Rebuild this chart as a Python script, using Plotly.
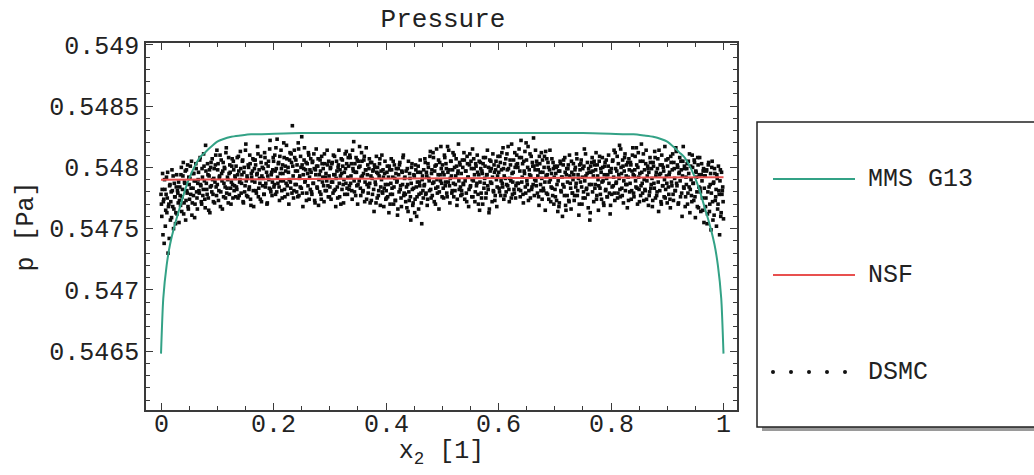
import numpy as np
import plotly.graph_objects as go

# ---------------- data ----------------
# MMS G13
mms_x = [0.000, 0.004, 0.010, 0.016, 0.025, 0.034, 0.043, 0.052, 0.060, 0.069, 0.078, 0.087,
         0.100, 0.110, 0.125, 0.141, 0.160, 0.176, 0.250, 0.500, 0.750, 0.824, 0.840,
         0.859, 0.875, 0.890, 0.900, 0.913, 0.922, 0.931, 0.940, 0.948, 0.957, 0.966,
         0.975, 0.984, 0.990, 0.996, 1.000]
mms_p = [0.54648, 0.54693, 0.54720, 0.54737, 0.54754, 0.54768, 0.54782, 0.54793, 0.54801, 0.54808, 0.54812, 0.54816,
         0.54821, 0.54823, 0.54825, 0.54826, 0.54827, 0.54827, 0.54828, 0.54828, 0.54828, 0.54827, 0.54827,
         0.54826, 0.54825, 0.54823, 0.54821, 0.54816, 0.54812, 0.54808, 0.54801, 0.54793, 0.54782, 0.54768,
         0.54754, 0.54737, 0.54720, 0.54693, 0.54648]

# NSF
nsf_x = [0.0, 1.0]
nsf_p = [0.54790, 0.54792]

# DSMC: deviations from 0.5479 Pa in units of 1e-5 Pa, two interleaved sets of cells on [0, 1]
dsmc_dp_a = [
    -12, -30, 5, -18, -52, -8, -25, 2, -15, -60, -20, -5, -33, -10, 8, -22, -40, -3, -14, -27, 4, -9, -19, -35,
    -6, -21, 10, -14, 3, -28, -2, 7, -17, -9, 12, -24, -4, 1, -12, 15, -19, -7, 5, -31, -1, 9, -15, -3,
    6, -11, 18, -5, -20, 2, -8, 11, -16, 28, -3, -12, 4, -25, 8, -6, 14, -10, 0, -18, 9, -2, 20, -13,
    -4, 13, -9, 3, -22, 16, -1, 7, -14, 10, -6, 22, -11, 2, -19, 5, 12, -7, -2, 17, -15, 8, -5, 1,
    11, -8, 4, 19, -13, 0, 9, -3, 15, -18, 6, -10, 24, -1, 3, -14, 10, -6, 13, -21, 2, 7, -9, 16,
    -2, 12, -11, 5, 21, -7, 1, -16, 14, 3, -5, 9, -12, 18, -3, 6, -19, 11, 0, 25, -8, 4, -13, 8,
    15, -4, 7, 26, -10, 2, 13, -6, 19, -1, 9, -15, 5, 30, -8, 11, -3, 17, -12, 6, 0, 22, -7, 14,
    44, 3, -9, 18, 7, -4, 12, -14, 25, 1, -6, 10, 35, -11, 4, 16, -2, 8, -17, 13, -5, 20, 2, -8,
    6, -12, 15, -3, 9, -19, 4, 11, -7, 17, 0, -10, 7, -16, 13, 2, -5, 21, -9, 5, -1, 12, -14, 3,
    -6, 10, -2, 14, -11, 4, 19, -8, 1, 7, -15, 12, -3, 8, -20, 5, 16, -4, 0, -12, 9, 23, -7, 2,
    11, -5, 18, 3, -9, 24, 7, -1, 13, -13, 6, 16, -4, 10, 27, -7, 2, 15, -10, 5, 19, -2, 8, -16,
    4, -11, 9, -3, 14, -17, 1, 7, -8, 12, -2, -19, 6, 10, -13, 3, 17, -6, 0, -10, 8, -22, 5, -4,
    -9, 6, -14, 2, 11, -20, -3, 8, -12, 15, -6, 1, -17, 9, -1, -24, 4, 12, -8, -15, 7, -4, 20, -11,
    2, -18, -6, 9, -26, -10, 5, -14, -3, 13, -21, -7, 3, -16, 8, -30, -2, 11, -12, -5, 6, -19, 0, -9,
    8, -4, 14, -11, 3, -16, 10, -1, 19, -8, 5, -13, 22, -2, 7, -20, 12, 0, -6, 16, -10, 4, 27, -3,
    12, -7, 4, 18, -2, 9, -14, 6, 24, -5, 1, 15, -11, 8, -3, 20, -9, 3, 11, -16, 7, -1, 14, -6,
    5, -12, 10, -4, 16, -1, 7, -18, 13, 2, -8, 21, -5, 9, 0, -14, 17, 4, -10, 11, -3, 6, -20, 15,
    -2, 9, -15, 5, 13, -7, 1, 18, -11, 4, -5, 10, -24, 7, 15, -3, 2, -9, 12, -17, 8, 0, -6, 19,
    6, -10, 14, -1, 22, -6, 9, 3, -13, 17, -4, 8, 27, -8, 1, 12, -15, 5, -2, 16, -11, 10, -5, 20,
    13, -3, 25, 7, -9, 18, 2, -12, 15, 5, -6, 30, -1, 10, -17, 8, 21, 3, -8, 14, -4, 11, 0, 24,
    -5, 12, 3, -14, 19, 6, -9, 1, 16, -7, 10, -2, 23, -11, 4, 14, -16, 8, 0, -6, 17, -13, 9, 2,
    -8, 5, -17, 11, -1, -22, 7, 13, -10, 2, -4, 16, -13, 6, -25, 9, -2, 12, -18, 3, -7, 15, -11, 0,
    4, -13, 10, -3, 17, -9, 1, -20, 8, 13, -6, 2, -15, 11, -1, 21, -8, 5, -12, 9, -4, -27, 6, 14,
    -10, 3, 15, -7, 8, -16, 12, 0, -5, 19, -12, 6, -2, 10, -19, 4, 14, -8, 1, -14, 11, -3, 7, -21,
    9, -6, 16, 2, -11, 22, -3, 7, -15, 13, 1, -8, 25, 5, -13, 11, -1, 18, -9, 3, -4, 14, -17, 8,
    -3, 12, -9, 20, 4, -14, 8, -1, 26, -7, 10, 2, -18, 15, -5, 6, -11, 21, 0, -8, 13, -16, 3, 9,
    6, -10, 14, -4, 1, -17, 11, -7, 18, 3, -13, 9, -2, 24, -9, 5, -20, 12, -5, 7, 0, -15, 16, -3,
    11, -6, 4, -16, 19, -2, 8, -12, 14, 1, -9, 23, -5, 10, -19, 6, -1, 15, -11, 3, 27, -7, 9, -14,
    -4, 13, -11, 5, 21, -8, 0, -18, 10, -3, 16, -14, 7, 2, -22, 12, -6, 18, -10, 4, -1, -25, 9, -7,
    3, -15, 8, -28, 12, -6, -20, 5, -11, 15, -33, -2, 9, -17, -8, 4, -24, 11, -12, -1, -30, 6, -9, -18,
]
dsmc_dp_b = [
    -20, -8, -45, -16, 0, -38, -12, -27, 6, -22, -48, -4, -18, -31, -9, 3, -24, -14, -36, -6, -28, -11, -2, -17,
    -13, 4, -26, -8, 14, -19, -3, -33, 8, -11, -22, 2, -16, 11, -7, -29, 5, -13, -1, -20, 13, -10, -24, 0,
    -9, 16, -4, -18, 9, -13, 21, -1, -23, 7, -8, 13, -15, 3, -27, 10, -5, 17, -12, 1, -19, 12, -6, 24,
    8, -17, 2, 20, -10, 5, -24, 14, -3, 9, -15, 26, -7, 0, 18, -12, 6, -20, 11, -4, 15, -9, 3, -14,
    -6, 18, -15, 7, -2, 23, -11, 4, 16, -19, 10, -5, 29, -13, 1, 12, -8, 20, -16, 5, -1, 17, -22, 9,
    16, -9, 4, 27, -14, 8, -3, 19, -18, 10, 1, -12, 22, -6, 13, -20, 3, 15, -7, 32, -10, 6, -2, 18,
    -6, 20, -12, 9, 33, -3, 14, -17, 5, 24, -9, 12, -1, 18, -14, 7, 28, -5, 10, -20, 16, -2, 21, -11,
    11, -15, 24, -4, 16, -10, 7, 30, -13, 3, 19, -7, 12, -22, 9, 26, -1, 14, -11, 5, 22, -16, 8, 17,
    -10, 14, -3, 21, -17, 8, 25, -6, 11, -21, 4, 16, -12, 19, -2, 9, -18, 13, 2, -9, 24, -5, 15, -14,
    9, -16, 13, -2, 20, -9, 4, -22, 15, -6, 10, 24, -14, 3, 17, -8, 11, -19, 6, 21, -3, 13, -12, 18,
    -8, 20, -3, 13, -16, 9, 31, -10, 6, 18, -5, -20, 15, -1, 11, -13, 22, 3, -9, 16, -18, 8, 26, -4,
    12, -6, 17, -19, 3, 14, -12, 8, -26, 10, -4, 19, -15, 5, -9, 13, -21, 7, 20, -11, 2, -7, 15, -16,
    -15, 11, -4, -27, 8, -12, 17, -7, 2, -20, 12, -17, 5, -2, -29, 9, -10, 14, -5, -22, 6, 18, -13, 1,
    -12, 7, -23, -4, 15, -17, 1, -33, 10, -8, -19, 4, -27, 12, -6, -14, 6, -24, -2, 16, -11, -36, 3, -15,
    -5, 17, -12, 6, -21, 13, 1, -9, 23, -15, 8, -3, 18, -18, 11, -7, 25, -11, 4, -24, 14, -1, 9, -14,
    6, -15, 20, -5, 13, -11, 27, -2, 8, -19, 15, 3, -9, 22, -14, 10, -4, 17, -21, 5, 29, -8, 12, -13,
    -9, 16, -3, 22, -16, 7, -11, 19, 2, -22, 12, -6, 15, -14, 25, -1, 9, -18, 13, -5, 20, -12, 4, -25,
    14, -11, 7, -20, 18, -3, 11, -15, 4, 24, -8, -27, 16, -2, 9, -18, 21, -10, 6, -13, 15, -22, 3, 11,
    -7, 19, -13, 8, -3, 26, -16, 13, 1, -10, 21, -5, 9, -18, 16, -1, 29, -12, 6, -8, 22, -15, 12, -3,
    10, -8, 18, -14, 32, -2, 13, -19, 7, 23, -11, 16, -4, 27, -9, 4, -15, 19, -6, 11, 34, -13, 8, -1,
    15, -11, 8, -21, 13, -4, 22, -16, 6, -9, 19, -25, 3, 17, -12, 10, -2, 24, -18, 5, -7, 14, -20, 11,
    -14, 10, -4, -26, 7, -19, 15, -9, 2, -30, 12, -6, 18, -21, 4, -13, 9, -17, 20, -3, -24, 6, -11, 13,
    -17, 8, -6, 21, -13, 4, -29, 12, -2, 16, -20, 9, -10, 25, -15, 3, -7, 14, -23, 6, -33, 11, -4, 18,
    7, -18, 12, -4, 22, -13, 3, -25, 15, -7, 9, -16, 18, -1, -21, 11, -9, 16, -14, 4, 20, -11, -28, 6,
    -12, 15, -5, 24, -17, 9, -2, 19, -11, 4, 28, -14, 10, -7, 16, -19, 7, 21, -4, 12, -23, 2, 17, -10,
    14, -16, 7, 26, -11, 3, 19, -6, 12, -20, 22, -8, 5, -13, 29, -3, 15, -17, 8, -9, 24, -1, 11, -21,
    -13, 18, -7, 9, -22, 14, -3, 23, -15, 6, -10, 17, -26, 4, 12, -18, 20, -5, 10, -14, 27, -8, 3, -19,
    17, -12, 6, -23, 14, -5, 21, -17, 9, -9, 26, -3, 12, -20, 5, 18, -14, 8, -30, 15, -6, 11, -22, 2,
    9, -20, 15, -6, -27, 11, -13, 20, -3, -17, 14, -31, 6, -10, 18, -23, 4, -7, -26, 13, -15, 7, -35, 3,
    -22, 7, -36, -10, 14, -26, -4, -41, 10, -18, -3, -29, 5, -14, -38, 1, -20, -9, -45, 8, -27, -12, -6, -32,
]
dsmc_ref_p = 0.5479
n_cells = len(dsmc_dp_a)
half_cell = 0.5 / (2 * n_cells)
dsmc_x = np.concatenate([np.linspace(0.0, 1.0 - 2 * half_cell, n_cells),
                         np.linspace(2 * half_cell, 1.0, n_cells)])
dsmc_p = [dsmc_ref_p + d * 1e-5 for d in dsmc_dp_a + dsmc_dp_b]

x_tickvals = [0, 0.2, 0.4, 0.6, 0.8, 1.0]
x_ticktext = ["0", "0.2", "0.4", "0.6", "0.8", "1"]
y_tickvals = [0.5465, 0.547, 0.5475, 0.548, 0.5485, 0.549]
y_ticktext = ["0.5465", "0.547", "0.5475", "0.548", "0.5485", "0.549"]

legend_names = ["MMS G13", "NSF", "DSMC"]

# ---------------- style ----------------
FONT = "Liberation Mono, Courier New, monospace"
GREEN = "#33a286"
RED = "#e8504f"
FRAME = "#3a3a3a"
TXT = "#222"
FS = 25
W, H = 1034, 475
L, R, T, B = 146, 737, 43, 410  # plot area in px


def px(xp):
    return (xp - L) / (R - L)


def py(yp):
    return (B - yp) / (B - T)


fig = go.Figure()
fig.add_trace(go.Scatter(x=dsmc_x, y=dsmc_p, mode="markers", name=legend_names[2],
                         marker=dict(color="#0c0c0c", size=3.6, symbol="square"),
                         showlegend=False))
fig.add_trace(go.Scatter(x=mms_x, y=mms_p, mode="lines", name=legend_names[0],
                         line=dict(color=GREEN, width=2, shape="spline", smoothing=0.6),
                         showlegend=False))
fig.add_trace(go.Scatter(x=nsf_x, y=nsf_p, mode="lines", name=legend_names[1],
                         line=dict(color=RED, width=2), showlegend=False))

axis_common = dict(showline=True, linecolor=FRAME, linewidth=1.5, mirror="allticks",
                   ticks="inside", ticklen=7, tickwidth=1, tickcolor=FRAME,
                   showgrid=False, zeroline=False,
                   tickfont=dict(family=FONT, size=FS, color=TXT))

fig.update_xaxes(range=[-0.0267, 1.024], tickvals=x_tickvals, ticktext=x_ticktext,
                 showticklabels=False,
                 minor=dict(ticks="inside", ticklen=4, dtick=0.05, tick0=0, tickcolor=FRAME, showgrid=False),
                 title=dict(text="x<sub>2</sub> [1]", font=dict(family=FONT, size=FS, color=TXT), standoff=30),
                 automargin=True,
                 **axis_common)
fig.update_yaxes(range=[0.54602, 0.549015], tickvals=y_tickvals, ticktext=y_ticktext,
                 minor=dict(ticks="inside", ticklen=4, dtick=0.0001, tick0=0.5465, tickcolor=FRAME, showgrid=False),
                 title=dict(text="p [Pa]", font=dict(family=FONT, size=FS, color=TXT), standoff=8),
                 **axis_common)

shapes = []
# legend shadow and box
shapes.append(dict(type="rect", xref="paper", yref="paper", x0=px(762), x1=px(1045), y0=py(431), y1=py(426),
                   fillcolor="#9a9a9a", line=dict(width=0), layer="above"))
shapes.append(dict(type="rect", xref="paper", yref="paper", x0=px(757), x1=px(1045), y0=py(427), y1=py(122),
                   fillcolor="white", line=dict(color=TXT, width=1.5), layer="above"))
shapes.append(dict(type="line", xref="paper", yref="paper", x0=px(773), x1=px(855), y0=py(179), y1=py(179),
                   line=dict(color=GREEN, width=2), layer="above"))
shapes.append(dict(type="line", xref="paper", yref="paper", x0=px(773), x1=px(855), y0=py(275), y1=py(275),
                   line=dict(color=RED, width=2), layer="above"))
for dx in [773, 791, 809, 827, 845]:
    shapes.append(dict(type="circle", xref="paper", yref="paper", x0=px(dx - 2), x1=px(dx + 2),
                       y0=py(372 + 2), y1=py(372 - 2), fillcolor="#111", line=dict(width=0), layer="above"))

annotations = []
# x tick labels placed through the x axis scale
for tv, tt in zip(x_tickvals, x_ticktext):
    annotations.append(dict(text=tt, xref="x", yref="paper", x=tv, y=py(425),
                            xanchor="center", yanchor="middle", showarrow=False,
                            font=dict(family=FONT, size=FS, color=TXT)))
for name, yy in zip(legend_names, [179, 275, 372]):
    annotations.append(dict(text=name, xref="paper", yref="paper", x=px(866), y=py(yy),
                            xanchor="left", yanchor="middle", showarrow=False,
                            font=dict(family=FONT, size=FS, color=TXT)))

fig.update_layout(
    width=W, height=H, margin=dict(l=L, r=W - R, t=T, b=H - B),
    paper_bgcolor="white", plot_bgcolor="white",
    title=dict(text="Pressure", x=px(443), xref="paper", xanchor="center",
               y=1 - 18 / H, yref="container", yanchor="middle",
               font=dict(family=FONT, size=26, color=TXT)),
    shapes=shapes, annotations=annotations, showlegend=False,
)

fig.write_html("out.html")
